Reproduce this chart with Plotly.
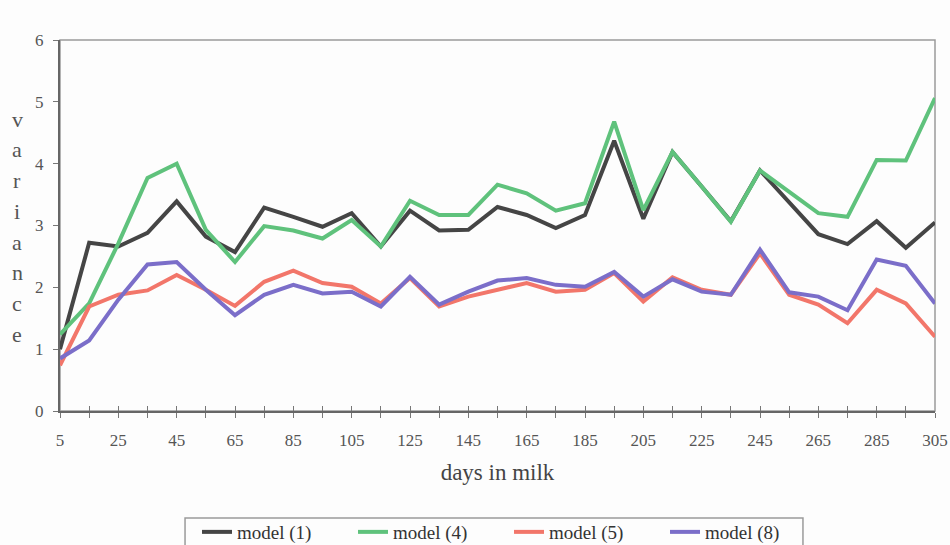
import plotly.graph_objects as go

# Days in milk (test-day midpoints) and variance estimates per model
days = list(range(5, 306, 10))

model_1 = [1.00, 2.72, 2.66, 2.88, 3.39, 2.82, 2.57, 3.29, 3.14, 2.98,
           3.20, 2.66, 3.24, 2.92, 2.93, 3.30, 3.17, 2.96, 3.17, 4.37,
           3.11, 4.19, 3.63, 3.07, 3.89, 3.37, 2.86, 2.70, 3.07, 2.64,
           3.05]
model_4 = [1.24, 1.74, 2.71, 3.77, 4.00, 2.93, 2.41, 2.99, 2.92, 2.79,
           3.09, 2.66, 3.40, 3.17, 3.17, 3.66, 3.52, 3.24, 3.36, 4.68,
           3.25, 4.19, 3.63, 3.06, 3.89, 3.55, 3.20, 3.14, 4.06, 4.05,
           5.06]
model_5 = [0.74, 1.69, 1.88, 1.95, 2.20, 1.96, 1.70, 2.09, 2.27, 2.07,
           2.01, 1.74, 2.15, 1.69, 1.85, 1.96, 2.07, 1.93, 1.96, 2.23,
           1.77, 2.16, 1.96, 1.88, 2.55, 1.88, 1.72, 1.42, 1.96, 1.74,
           1.20]
model_8 = [0.85, 1.14, 1.80, 2.37, 2.41, 1.96, 1.55, 1.88, 2.04, 1.90,
           1.93, 1.69, 2.17, 1.72, 1.93, 2.11, 2.15, 2.04, 2.01, 2.25,
           1.85, 2.13, 1.93, 1.88, 2.61, 1.92, 1.85, 1.63, 2.45, 2.35,
           1.74]

series = [
    ("model (1)", model_1, "#454545"),
    ("model (4)", model_4, "#5fc27c"),
    ("model (5)", model_5, "#f2766a"),
    ("model (8)", model_8, "#7b6ec9"),
]

x_labels = list(range(5, 306, 20))
y_ticks = [0, 1, 2, 3, 4, 5, 6]
y_title = "variance"

FONT = "Liberation Serif, Times New Roman, serif"

fig = go.Figure()
for name, vals, color in series:
    fig.add_trace(go.Scatter(
        x=days, y=vals, mode="lines", name=name,
        line=dict(color=color, width=4),
    ))

# Invisible trace on a second x axis that supplies the inner half of the ticks
fig.add_trace(go.Scatter(x=days, y=model_1, xaxis="x2", mode="lines",
                         line=dict(width=0), showlegend=False, hoverinfo="skip"))

# Light frame around the plotting area
fig.add_shape(type="rect", xref="paper", yref="paper", x0=0, y0=0, x1=1, y1=1,
              line=dict(color="#9a9a9a", width=1.5), layer="below")

# Box around the legend row (runs off the bottom edge of the page)
fig.add_shape(type="rect", xref="paper", yref="paper",
              x0=0.1429, x1=0.8491, y0=-0.375, y1=-0.2884,
              line=dict(color="#9a9a9a", width=1.5), fillcolor="rgba(0,0,0,0)")

# Stacked vertical letters for the y-axis title
for i, ch in enumerate(y_title):
    fig.add_annotation(text=ch, xref="paper", yref="y", x=-0.049, y=4.72 - i * 0.497,
                       showarrow=False, xanchor="center", yanchor="middle",
                       font=dict(family=FONT, size=22, color="#555555"))

fig.update_layout(
    width=950, height=545,
    margin=dict(l=60, r=15, t=40, b=134, autoexpand=False),
    paper_bgcolor="#fdfdfd",
    plot_bgcolor="#fdfdfd",
    font=dict(family=FONT, color="#555555"),
    showlegend=True,
    legend=dict(
        orientation="h", x=0.1566, xanchor="left", y=-0.275, yanchor="top",
        borderwidth=0, bgcolor="rgba(0,0,0,0)",
        font=dict(family=FONT, size=19, color="#333333"),
        itemwidth=30, entrywidthmode="pixels", entrywidth=111,
        tracegroupgap=0,
    ),
    xaxis=dict(
        range=[5, 305], tickmode="array", tickvals=days,
        ticktext=[str(d) if d in x_labels else "" for d in days],
        ticks="outside", ticklen=5, tickwidth=1, tickcolor="#777777",
        showline=True, linecolor="#666666", linewidth=2,
        showgrid=False, zeroline=False, automargin=False,
        ticklabelstandoff=8,
        tickfont=dict(family=FONT, size=17, color="#555555"),
        title=dict(text="days in milk", font=dict(family=FONT, size=23, color="#444444"),
                   standoff=14),
    ),
    xaxis2=dict(
        range=[5, 305], overlaying="x", matches="x", side="bottom",
        tickmode="array", tickvals=days, showticklabels=False,
        ticks="inside", ticklen=5, tickwidth=1, tickcolor="#777777",
        showgrid=False, zeroline=False, showline=False,
    ),
    yaxis=dict(
        range=[0, 6], tickmode="array", tickvals=y_ticks,
        ticks="outside", ticklen=5, tickwidth=1, tickcolor="#777777",
        showline=True, linecolor="#666666", linewidth=2,
        showgrid=False, zeroline=False, automargin=False,
        ticklabelstandoff=6,
        tickfont=dict(family=FONT, size=17, color="#555555"),
    ),
)

fig.write_html("out.html")
